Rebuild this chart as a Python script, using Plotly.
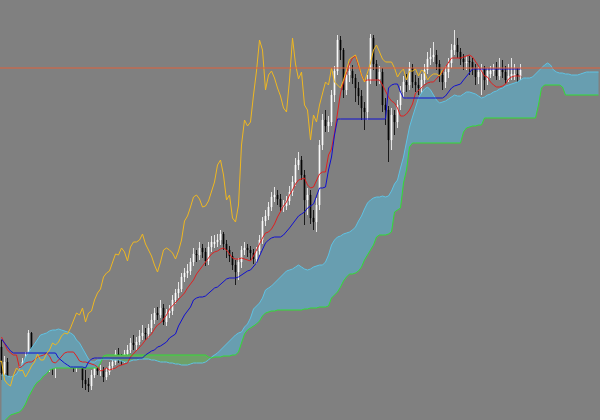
import plotly.graph_objects as go

# ---- candle data (price units), one bar per period ----
open_ = [73,47,58,30,25,23,42,48,58,60,87,62,55,58,62,56,59,60,56,63,58,68,82,70,60,52,
58,59,40,36,34,45,52,49,50,43,48,54,58,66,61,60,66,70,77,75,78,84,87,86,
92,100,107,105,112,98,107,109,120,127,131,143,147,149,158,166,165,172,168,159,
173,176,178,180,186,176,170,164,155,148,158,170,172,170,167,161,169,180,199,204,
213,223,225,221,213,214,219,228,238,255,260,245,220,225,202,198,215,275,300,294,
298,325,349,380,370,330,345,349,342,332,324,312,308,340,382,356,341,348,315,310,
280,305,298,315,328,338,335,352,338,335,332,340,350,361,363,365,356,345,338,348,
357,370,375,368,361,357,359,358,352,343,348,351,340,346,349,351,344,350,348,340,
344,343,346,344]
high = [80,64,62,35,33,46,54,62,68,90,88,64,62,68,64,63,65,64,70,66,72,86,88,78,64,62,
62,62,50,42,50,56,57,55,53,52,58,62,70,72,66,70,75,82,85,83,90,95,92,96,
106,112,113,120,116,111,115,125,131,138,147,152,156,162,172,170,178,176,172,178,
184,185,186,190,188,180,174,168,160,162,174,178,176,174,171,173,185,203,210,218,
228,233,230,226,220,224,234,244,262,268,264,250,232,230,210,222,280,306,310,304,
330,354,385,384,372,352,356,355,346,338,330,318,345,386,385,360,354,352,322,314,
312,310,320,334,344,346,358,356,345,342,346,356,368,372,378,370,360,350,354,362,
376,390,382,372,366,364,364,362,356,353,356,354,352,354,356,358,362,360,354,356,
362,356,352,356]
low = [40,44,25,15,12,20,38,44,52,57,58,50,48,54,52,53,48,45,42,52,56,64,62,55,48,48,
52,32,30,28,30,42,45,44,38,40,45,50,55,57,55,57,62,67,70,70,75,80,80,82,
88,96,100,102,95,94,102,105,116,122,128,138,142,145,154,158,160,162,154,155,
168,172,173,175,170,162,158,150,135,140,152,165,163,160,156,156,165,176,194,200,
209,218,215,208,208,210,215,224,234,250,240,195,205,196,190,188,210,270,288,288,
294,318,345,360,322,325,338,336,318,315,300,290,300,336,350,334,336,308,295,258,
270,285,292,310,322,328,330,332,328,325,326,336,346,355,358,350,338,330,332,342,
352,365,362,355,350,350,345,345,335,336,325,330,335,342,344,340,340,342,336,338,
340,340,338,340]
close = [47,58,30,25,23,42,48,58,60,87,62,55,58,62,56,59,60,56,63,58,68,82,70,60,52,58,
59,40,36,34,45,52,49,50,43,48,54,58,66,60,60,66,70,77,75,78,84,87,86,92,
100,107,105,112,98,107,109,120,127,131,143,147,149,158,166,165,172,168,159,173,
178,178,180,186,176,170,164,155,148,158,170,172,170,167,161,169,180,199,204,213,
223,225,221,213,214,219,228,238,255,260,245,220,225,202,198,215,275,300,294,298,
325,349,380,370,330,345,349,342,332,324,312,308,340,382,356,341,348,315,310,280,
305,298,315,328,338,335,352,338,335,332,340,350,361,363,365,356,345,338,348,357,
370,375,368,361,358,358,358,352,343,348,351,340,349,349,351,344,350,348,340,344,
346,346,344,350]

# ---- Ichimoku lines ----
tenkan = [83,76,70,67,65,65,52,54,57,58,58,60,63,64,65,67,64,58,57,60,
63,67,68,68,68,64,59,58,58,57,56,55,53,49,50,52,50,51,52,54,
55,56,57,63,66,69,72,76,80,83,86,91,95,97,101,105,111,114,117,121,
124,127,132,136,140,146,150,154,158,162,166,168,169,171,172,170,166,162,161,161,
162,161,160,159,164,170,177,182,187,188,191,196,203,209,214,218,225,230,236,240,
241,242,235,232,233,239,246,248,248,265,271,287,308,327,338,348,356,362,364,354,
345,339,340,340,340,340,340,335,329,323,319,317,312,304,304,306,310,316,327,330,
333,335,337,338,338,341,344,348,353,358,362,362,362,362,363,364,365,363,359,354,
349,344,343,338,335,333,333,334,336,341,343,344,344,344]
kijun = [81,77,72,69,67,67,67,67,67,67,67,67,67,67,67,67,67,67,67,62,
59,57,55,53,53,53,53,53,52,58,61,62,62,62,62,62,62,62,62,62,
62,62,62,62,62,62,62,62,65,67,69,70,73,74,76,78,82,84,86,94,
100,105,109,113,120,122,123,123,124,127,130,132,133,136,139,141,142,142,142,143,
145,147,149,150,153,157,164,171,177,180,182,183,183,183,185,188,192,196,200,204,
206,208,212,214,216,224,232,232,233,250,263,285,301,301,301,301,301,301,301,301,
301,301,301,301,301,301,301,301,301,332,335,336,336,328,322,322,322,322,322,322,
322,322,322,322,322,322,322,322,324,328,332,334,335,336,340,344,348,351,351,351,
351,351,351,351,351,351,351,351,351,351,351,351,351,351]
span_a = [45,45,44,43,44,46,51,56,63,68,72,76,80,85,86,87,89,90,90,91,
90,89,88,87,85,80,77,72,67,61,58,58,60,60,61,61,61,60,60,60,
59,58,58,59,60,60,61,61,61,61,60,60,59,58,58,58,57,57,56,56,
55,55,55,56,57,57,57,57,58,60,63,65,67,70,73,76,80,83,85,87,
88,93,96,102,111,114,117,122,130,132,134,137,140,142,146,149,150,151,153,155,
153,151,150,151,153,154,155,155,158,165,175,180,183,184,186,187,188,190,193,199,
204,211,217,220,222,223,223,224,223,224,229,236,240,252,263,278,293,303,313,322,
327,331,333,330,325,320,317,318,319,321,323,325,324,324,326,328,328,327,326,324,
322,323,325,326,328,329,331,332,334,335,336,337,338,340,342,342,342,343,346,350,
353,355,357,355,350,348,347,347,346,346,345,345,345,346,347,348,348,348,348,348]
span_b = [-4,-1,2,5,6,7,8,11,16,23,29,34,38,40,44,46,50,51,52,52,
52,52,52,52,52,52,52,52,52,52,52,52,52,57,64,65,65,65,65,65,
65,65,65,65,65,65,65,65,65,65,65,65,65,65,65,65,65,65,65,65,
65,65,65,65,65,65,65,65,65,63,62,63,63,63,64,64,64,65,65,68,
77,86,90,92,94,96,99,104,107,108,109,109,110,110,110,110,110,110,110,110,
110,111,111,112,112,112,113,113,113,114,122,125,128,133,139,143,146,146,147,149,
153,160,165,169,175,183,185,185,185,186,188,208,210,212,237,250,273,277,277,277,
277,277,277,277,277,277,277,277,277,277,277,277,277,277,288,292,293,294,294,295,
295,302,302,302,302,302,302,302,302,302,302,302,302,302,302,302,302,302,302,315,
332,335,335,335,335,335,335,333,325,325,325,325,325,325,325,325,325,325,325,325]
price_level = 352
shift = 26

bars = list(range(len(close)))
proj = list(range(len(span_a)))
upper = [max(a, b) for a, b in zip(span_a, span_b)]

fig = go.Figure()
# cloud: blue where span A above span B, green where span B above
fig.add_trace(go.Scatter(x=proj, y=span_b, mode="lines", line=dict(width=0), hoverinfo="skip"))
fig.add_trace(go.Scatter(x=proj, y=upper, mode="lines", line=dict(width=0), fill="tonexty",
                         fillcolor="rgb(104,158,176)", hoverinfo="skip"))
fig.add_trace(go.Scatter(x=proj, y=span_a, mode="lines", line=dict(width=0), hoverinfo="skip"))
fig.add_trace(go.Scatter(x=proj, y=upper, mode="lines", line=dict(width=0), fill="tonexty",
                         fillcolor="rgb(110,160,104)", hoverinfo="skip"))
fig.add_trace(go.Scatter(x=proj, y=span_a, mode="lines", line=dict(color="#5fc3e4", width=1)))
fig.add_trace(go.Scatter(x=proj, y=span_b, mode="lines", line=dict(color="#33dd33", width=1)))

fig.add_hline(y=price_level, line=dict(color="#e0603a", width=1))

fig.add_trace(go.Candlestick(
    x=bars, open=open_, high=high, low=low, close=close, whiskerwidth=0,
    increasing=dict(line=dict(color="#ffffff", width=0.8), fillcolor="#ffffff"),
    decreasing=dict(line=dict(color="#000000", width=0.8), fillcolor="#000000"),
))
fig.add_trace(go.Scatter(x=bars, y=tenkan, mode="lines", line=dict(color="#e02020", width=1)))
fig.add_trace(go.Scatter(x=bars, y=kijun, mode="lines", line=dict(color="#1010d0", width=1)))
fig.add_trace(go.Scatter(x=[i - shift for i in bars], y=close, mode="lines",
                         line=dict(color="#f0b820", width=1)))

fig.update_layout(
    width=600, height=420, margin=dict(l=0, r=0, t=0, b=0),
    paper_bgcolor="#808080", plot_bgcolor="#808080",
    showlegend=False, boxgap=0.6,
    xaxis=dict(range=[-0.5, 199.5], visible=False, rangeslider=dict(visible=False)),
    yaxis=dict(range=[0, 420], visible=False),
)
fig.write_html("out.html", config={"displayModeBar": False},
               post_script="document.body.style.margin='0';document.body.style.background='#808080';")
